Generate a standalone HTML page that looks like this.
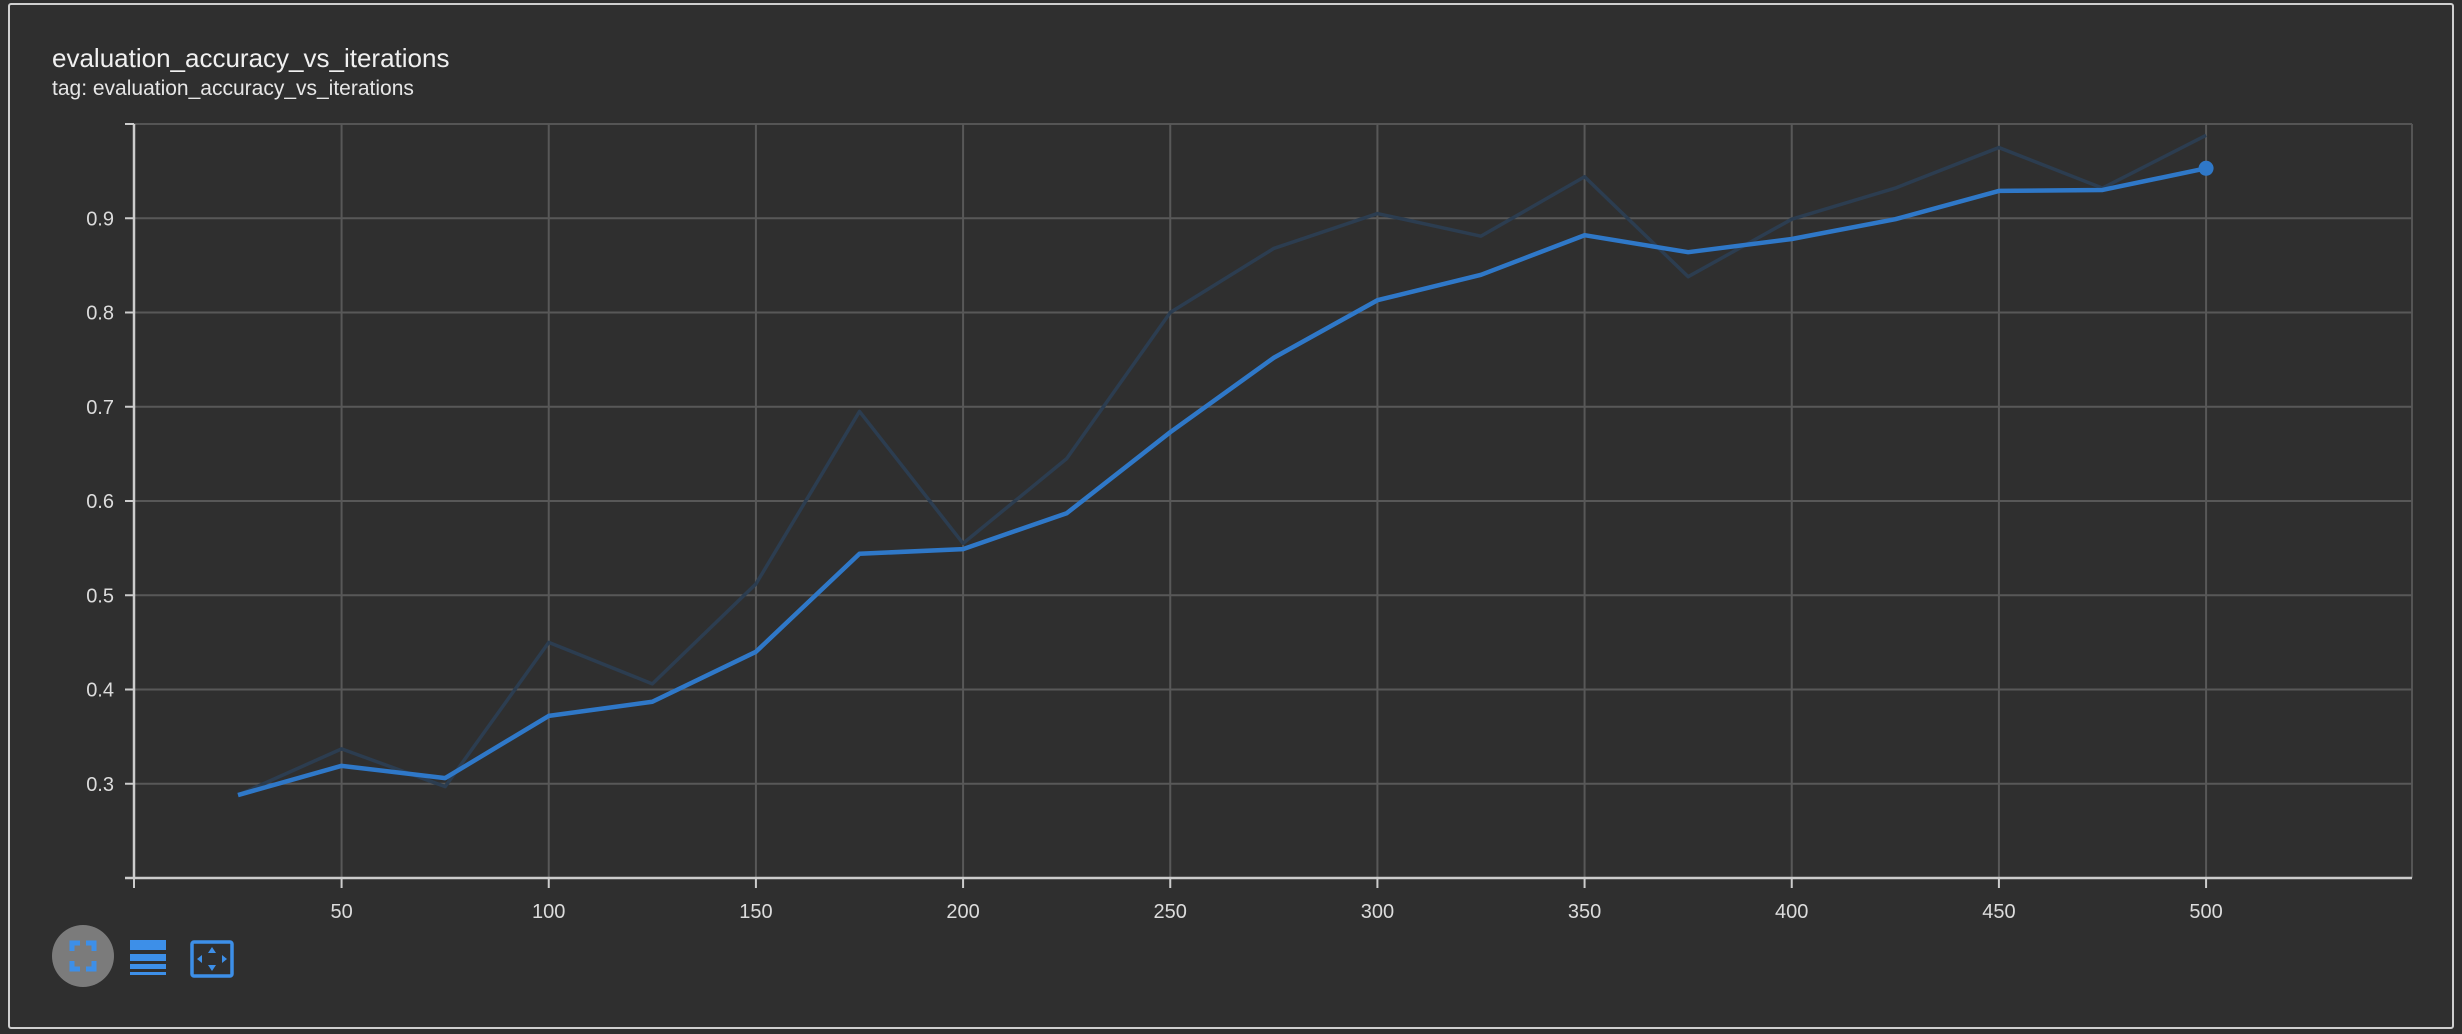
<!DOCTYPE html>
<html><head><meta charset="utf-8"><style>
html,body{margin:0;padding:0;background:#2f2f2f;}
body{width:2462px;height:1034px;overflow:hidden;position:relative;font-family:"Liberation Sans",sans-serif;}
.frame{position:absolute;left:8px;top:3px;width:2446px;height:1026px;border:2px solid #cfcfcf;border-radius:3px;box-sizing:border-box;}
.title{position:absolute;left:52px;top:43px;color:#f0f0f0;font-size:26px;}
.sub{position:absolute;left:52px;top:77px;color:#e6e6e6;font-size:21px;}
</style></head><body>
<div class="frame"></div>
<div class="title">evaluation_accuracy_vs_iterations</div>
<div class="sub">tag: evaluation_accuracy_vs_iterations</div>
<svg id="chart" width="2462" height="1034" style="position:absolute;left:0;top:0"></svg>
<svg width="2462" height="1034" style="position:absolute;left:0;top:0;pointer-events:none">
<g>
<circle cx="83" cy="956" r="31" fill="#7b7b7b"/>
<path d="M72 951v-8h8M86 943h8v8M94 961v8h-8M80 969h-8v-8" stroke="#3d8fe8" stroke-width="5" fill="none"/>
</g>
<g fill="#3d8fe8">
<rect x="130" y="940" width="36" height="10"/><rect x="130" y="954" width="36" height="7"/><rect x="130" y="964" width="36" height="5"/><rect x="130" y="972" width="36" height="3"/>
</g>
<g>
<rect x="192" y="942" width="40" height="34" rx="2" fill="none" stroke="#3d8fe8" stroke-width="3.5"/>
<path d="M212 947l4 6h-8zM212 971l4-6h-8zM197 959l5-4v8zM227 959l-5-4v8z" fill="#3d8fe8"/>
</g>
</svg>
<script>
const steps=[25,50,75,100,125,150,175,200,225,250,275,300,325,350,375,400,425,450,475,500];
const rawValues=[0.288,0.337,0.297,0.450,0.406,0.512,0.695,0.555,0.645,0.800,0.868,0.905,0.881,0.944,0.838,0.899,0.932,0.975,0.932,0.988];
const smoothedValues=[0.288,0.319,0.306,0.372,0.387,0.440,0.544,0.549,0.587,0.673,0.752,0.813,0.840,0.882,0.864,0.878,0.899,0.929,0.930,0.953];
const xTicks=[50,100,150,200,250,300,350,400,450,500];
const yTicks=[0.3,0.4,0.5,0.6,0.7,0.8,0.9];
const L=134,R=2412,T=124,B=878,X0=-0.1,X1=549.7,Y0=0.2,Y1=1.0;
const sx=v=>L+(v-X0)/(X1-X0)*(R-L);
const sy=v=>B-(v-Y0)/(Y1-Y0)*(B-T);
const svg=document.getElementById('chart');
const NS='http://www.w3.org/2000/svg';
function mk(t,a){const e=document.createElementNS(NS,t);for(const k in a)e.setAttribute(k,a[k]);svg.appendChild(e);return e;}
let e=mk('line',{x1:L,y1:T,x2:R,y2:T,stroke:'#555',"stroke-width":2});


e=mk('line',{x1:R,y1:T,x2:R,y2:B,stroke:'#555',"stroke-width":2});


yTicks.forEach(v=>{
 let g=mk('line',{x1:L,y1:sy(v),x2:R,y2:sy(v),stroke:'#585858',"stroke-width":2});
 
 
 let t=mk('line',{x1:L-9,y1:sy(v),x2:L,y2:sy(v),stroke:'#ccc',"stroke-width":2});
 
 
 let l=mk('text',{x:L-20,y:sy(v)+7,fill:'#dcdcdc',"font-size":20,"text-anchor":"end","font-family":"Liberation Sans, sans-serif"});
 l.textContent=v.toFixed(1);
 
 
});
xTicks.forEach(v=>{
 let g=mk('line',{x1:sx(v),y1:T,x2:sx(v),y2:B,stroke:'#585858',"stroke-width":2});
 
 
 let t=mk('line',{x1:sx(v),y1:B,x2:sx(v),y2:B+10,stroke:'#ccc',"stroke-width":2});
 
 
 let l=mk('text',{x:sx(v),y:B+40,fill:'#dcdcdc',"font-size":20,"text-anchor":"middle","font-family":"Liberation Sans, sans-serif"});
 l.textContent=v;
 
 
});
e=mk('line',{x1:L,y1:B,x2:L,y2:B+10,stroke:'#ccc',"stroke-width":2});


e=mk('line',{x1:L,y1:T,x2:L,y2:B,stroke:'#ccc',"stroke-width":2.5});


e=mk('line',{x1:L-9,y1:B,x2:R,y2:B,stroke:'#ccc',"stroke-width":2.5});


e=mk('line',{x1:L-9,y1:T,x2:L,y2:T,stroke:'#ccc',"stroke-width":2});


const pts=a=>steps.map((s,i)=>sx(s)+','+sy(a[i])).join(' ');
e=mk('polyline',{points:pts(rawValues),fill:'none',stroke:'#2c3d50',"stroke-width":3.5,"stroke-linejoin":"round"});


e=mk('polyline',{points:pts(smoothedValues),fill:'none',stroke:'#2f78c8',"stroke-width":4.5,"stroke-linejoin":"round"});


const n=steps.length-1;
e=mk('circle',{cx:sx(steps[n]),cy:sy(smoothedValues[n]),r:7.5,fill:'#2f78c8'});


</script>
</body></html>
